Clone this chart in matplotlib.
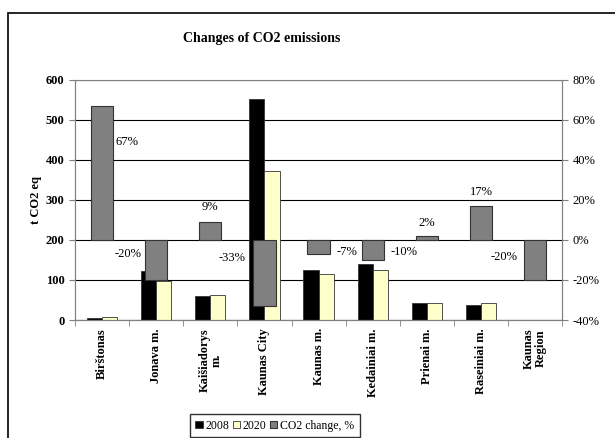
import matplotlib
matplotlib.use("Agg")
from matplotlib import pyplot as plt
from matplotlib.patches import Rectangle
from matplotlib.ticker import FuncFormatter, MultipleLocator
import numpy as np

plt.rcParams['font.family'] = ['Liberation Serif', 'DejaVu Serif']

# emissions per municipality, t CO2 eq
regions = ["Birštonas", "Jonava m.", "Kaišiadorys\nm.", "Kaunas City", "Kaunas m.",
           "Kedainiai m.", "Prienai m.", "Raseiniai m.", "Kaunas\nRegion"]
em_2008 = [5, 122, 59, 553, 124, 140, 42, 38, 0]
em_2020 = [8, 98, 63, 372, 116, 126, 42, 42, 0]
change_pct = [67, -20, 9, -33, -7, -10, 2, 17, -20]

# where each percentage label sits: (shift in categories, height in %)
label_pos = [(0.46, 49), (-0.52, -7), (0.0, 16.5), (-0.59, -9), (0.52, -6),
             (0.57, -6), (0.0, 8.5), (0.0, 24), (-0.57, -8.5)]

fig = plt.figure(figsize=(6.15, 4.38), dpi=100)
ax = fig.add_axes([0.122, 0.2694, 0.792, 0.548])
ax2 = ax.twinx()

x = np.arange(len(regions))
w = 0.28
edge = "#333333"
b1 = ax.bar(x - w / 2, em_2008, w, color="black", edgecolor=edge, linewidth=0.6, label="2008", zorder=2)
b2 = ax.bar(x + w / 2, em_2020, w, color="#FFFFCC", edgecolor=edge, linewidth=0.6, label="2020", zorder=2)
b3 = ax2.bar(x, change_pct, 0.41, color="#808080", edgecolor=edge, linewidth=0.8,
             label="CO2 change, %", zorder=3)

for i, v in enumerate(change_pct):
    dx, yy = label_pos[i]
    ax2.text(x[i] + dx, yy, "%d%%" % v, ha="center", va="center", fontsize=9)

ax.set_xlim(-0.5, len(regions) - 0.5)
ax.set_ylim(0, 600)
ax2.set_ylim(-40, 80)
ax.yaxis.set_major_locator(MultipleLocator(100))
ax2.yaxis.set_major_locator(MultipleLocator(20))
ax2.yaxis.set_major_formatter(FuncFormatter(lambda v, p: "%d%%" % v))

ax.set_axisbelow(True)
ax.grid(axis="y", color="black", linewidth=0.8)
for a in (ax, ax2):
    for s in a.spines.values():
        s.set_color("#808080")
ax2.spines["top"].set_visible(False)
ax.spines["top"].set_color("#808080")

ax.set_xticks(x)
ax.set_xticklabels(regions, rotation=90, fontweight="bold", fontsize=9, linespacing=1.0)
ax.set_xticks(np.arange(-0.5, len(regions)), minor=True)
ax.tick_params(axis="x", which="major", length=0, pad=6)
ax.tick_params(axis="x", which="minor", length=4, color="#808080")
ax.tick_params(axis="y", length=4, color="#808080", labelsize=9)
for t in ax.get_yticklabels():
    t.set_fontweight("bold")
ax2.tick_params(axis="y", length=4, color="#808080", labelsize=9)

ax.set_ylabel("t CO2 eq", fontweight="bold", fontsize=9, labelpad=3)
fig.text(0.426, 0.913, "Changes of CO2 emissions", ha="center", va="center",
         fontweight="bold", fontsize=10)

fig.legend([b1, b2, b3], ["2008", "2020", "CO2 change, %"], loc="center",
           bbox_to_anchor=(0.447, 0.028), ncol=3, fontsize=8.5, frameon=True,
           fancybox=False, edgecolor="black", handlelength=0.6, handleheight=0.6,
           handletextpad=0.25, columnspacing=0.3, borderpad=0.45, borderaxespad=0)

# chart area border
fig.patches.append(Rectangle((8 / 615, -0.1), 1.2, (438 - 13) / 438 + 0.1,
                             transform=fig.transFigure, fill=False,
                             edgecolor="black", linewidth=1.2))

fig.savefig("out.png", dpi=100)
